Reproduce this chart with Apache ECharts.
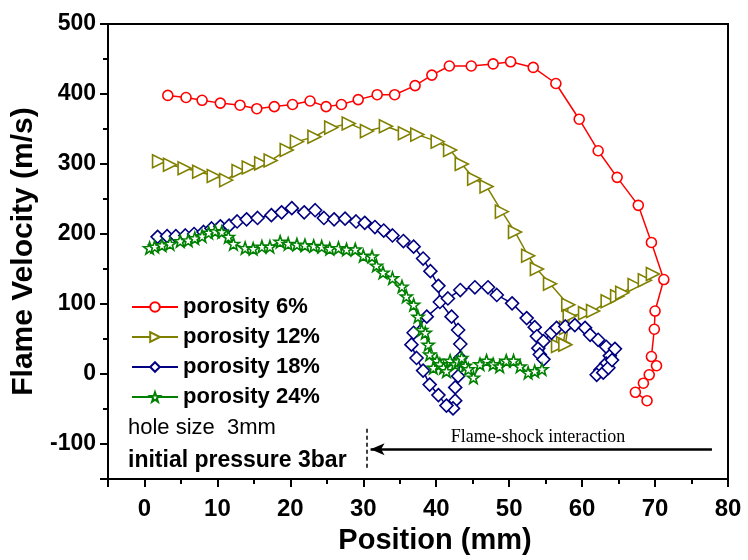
<!DOCTYPE html>
<html>
<head>
<meta charset="utf-8">
<script src="https://cdn.jsdelivr.net/npm/echarts@6/dist/echarts.min.js"></script>
<style>
  html, body { margin: 0; padding: 0; background: #fff; }
  #chart { width: 748px; height: 560px; }
</style>
</head>
<body>
<div id="chart"></div>
<script>
// porosity 6%
var pos6 = [3.2, 5.7, 7.9, 10.4, 13.1, 15.4, 17.8, 20.3, 22.7, 24.9, 27.0, 29.3, 31.9, 34.3, 37.1, 39.4, 41.8, 44.8, 47.8, 50.2, 53.3, 56.4, 59.6, 62.2, 64.8, 67.7, 69.5, 71.2, 70.0, 69.9, 69.5, 70.2, 69.2, 68.4, 67.3, 68.9]
var vel6 = [398, 395, 391, 387, 384, 379, 382, 385, 390, 382, 385, 392, 399, 399, 412, 427, 440, 440, 443, 446, 438, 415, 364, 319, 281, 241, 188, 135, 90, 64, 25, 12, -1, -13, -26, -38]
// porosity 12%
var pos12 = [2.0, 3.5, 5.5, 7.5, 9.5, 11.2, 12.9, 14.3, 16.0, 17.3, 19.5, 20.9, 23.3, 25.6, 28.0, 30.5, 33.1, 35.7, 37.4, 40.2, 41.9, 43.5, 45.2, 46.9, 49.0, 50.8, 52.6, 53.8, 55.6, 58.1, 57.8, 57.4, 56.7, 57.7, 58.3, 60.4, 61.5, 63.5, 64.8, 65.5, 67.2, 68.6, 69.7]
var vel12 = [304, 299, 294, 289, 283, 277, 290, 295, 301, 305, 320, 332, 339, 352, 358, 347, 354, 344, 342, 332, 320, 300, 279, 268, 232, 203, 169, 150, 129, 99, 66, 44, 40, 42, 83, 87, 90, 104, 111, 116, 127, 134, 143]
// porosity 18%
var pos18 = [1.8, 3.1, 4.3, 5.6, 6.8, 8.1, 9.2, 10.4, 11.6, 12.7, 14.0, 15.5, 17.4, 18.8, 20.2, 21.9, 23.4, 24.6, 26.0, 27.5, 29.0, 30.2, 31.6, 32.8, 34.0, 35.5, 36.9, 38.2, 39.2, 40.3, 40.5, 42.1, 43.0, 43.3, 43.3, 43.0, 42.6, 42.6, 42.3, 41.4, 40.3, 39.1, 38.2, 37.3, 36.6, 36.9, 38.7, 41.6, 43.3, 45.3, 47.1, 48.3, 50.4, 52.4, 53.5, 53.8, 54.0, 54.2, 54.7, 54.7, 55.8, 56.5, 57.7, 59.0, 60.4, 61.1, 62.2, 63.3, 63.8, 63.3, 62.5, 62.0, 62.9, 63.6, 64.1, 64.5]
var vel18 = [196, 197, 197, 198, 200, 203, 208, 211, 212, 218, 221, 223, 227, 231, 237, 231, 234, 223, 221, 222, 218, 216, 210, 205, 198, 190, 182, 165, 147, 126, 103, 82, 63, 43, 23, -3, -19, -38, -49, -45, -30, -15, 5, 23, 42, 59, 82, 108, 120, 124, 124, 113, 101, 80, 67, 54, 37, 28, 21, 47, 59, 66, 68, 70, 66, 56, 49, 39, 26, 15, 6, -1, 2, 9, 20, 36]
// porosity 24%
var pos24 = [0.7, 1.4, 2.4, 3.5, 4.9, 6.0, 6.9, 7.9, 8.8, 9.7, 10.6, 11.5, 12.2, 13.8, 14.9, 16.1, 17.2, 18.6, 19.7, 20.9, 22.0, 23.2, 24.3, 25.4, 26.6, 27.7, 28.9, 30.0, 31.2, 31.8, 32.7, 34.0, 35.3, 35.9, 36.9, 37.5, 38.0, 38.5, 38.9, 39.1, 40.1, 39.6, 40.5, 41.0, 41.4, 41.9, 42.6, 43.0, 43.5, 44.0, 44.4, 45.1, 46.0, 46.9, 47.8, 48.7, 49.6, 50.6, 51.5, 52.6, 53.5, 54.5]
var vel24 = [180, 182, 184, 186, 190, 191, 194, 197, 202, 204, 203, 196, 186, 180, 179, 182, 182, 189, 186, 185, 184, 183, 182, 179, 180, 178, 178, 169, 168, 155, 145, 137, 125, 111, 99, 82, 63, 59, 42, 28, 19, 9, 14, 9, 4, 19, 14, 18, 23, 12, 7, -5, 14, 19, 14, 11, 19, 19, 11, 2, 4, 7]

var names = ['porosity 6%', 'porosity 12%', 'porosity 18%', 'porosity 24%']
var colors = ['#ff0000', '#808000', '#000080', '#008000']

function pairs (xs, ys) {
  return xs.map(function (x, i) { return [x, ys[i]] })
}

var star = 'path://M0,-10L2.35,-3.24L9.51,-3.09L3.8,1.24L5.88,8.09L0,4L-5.88,8.09L-3.8,1.24L-9.51,-3.09L-2.35,-3.24Z'

function makeSeries (i, data, symbol, size, rotate) {
  return {
    name: names[i],
    type: 'line',
    data: data,
    symbol: symbol,
    symbolSize: size,
    symbolRotate: rotate || 0,
    showAllSymbol: true,
    z: 2 + i,
    lineStyle: { color: colors[i], width: 1.5 },
    itemStyle: { color: '#fff', borderColor: colors[i], borderWidth: 1.6 },
    emphasis: { disabled: true }
  }
}

var chart = echarts.init(document.getElementById('chart'))
var option = {
  animation: false,
  backgroundColor: '#fff',
  grid: {
    left: 108, right: 20, top: 24, bottom: 78,
    show: true, borderColor: '#000', borderWidth: 2
  },
  legend: {
    data: names,
    orient: 'vertical',
    left: 126,
    top: 291,
    itemWidth: 46,
    itemHeight: 12,
    itemGap: 8,
    textStyle: { fontFamily: 'Liberation Sans', fontWeight: 'bold', fontSize: 22, color: '#000' }
  },
  xAxis: {
    type: 'value',
    min: -5,
    max: 80,
    splitNumber: 8,
    name: 'Position (mm)',
    nameLocation: 'middle',
    nameGap: 38,
    nameTextStyle: { fontFamily: 'Liberation Sans', fontWeight: 'bold', fontSize: 29, color: '#000', padding: [0, 0, 0, 34] },
    axisLine: { onZero: false, lineStyle: { color: '#000', width: 2 } },
    axisTick: { length: 8, lineStyle: { width: 2 } },
    minorTick: { show: true, splitNumber: 2, length: 5, lineStyle: { color: '#000', width: 2 } },
    splitLine: { show: false },
    axisLabel: { showMinLabel: false, margin: 18, fontFamily: 'Liberation Sans', fontWeight: 'bold', fontSize: 24, color: '#000' }
  },
  yAxis: {
    type: 'value',
    min: -150,
    max: 500,
    splitNumber: 6,
    name: 'Flame Velocity (m/s)',
    nameLocation: 'middle',
    nameGap: 68,
    nameTextStyle: { fontFamily: 'Liberation Sans', fontWeight: 'bold', fontSize: 30, color: '#000' },
    axisLine: { onZero: false, lineStyle: { color: '#000', width: 2 } },
    axisTick: { length: 8, lineStyle: { width: 2 } },
    minorTick: { show: true, splitNumber: 2, length: 5, lineStyle: { color: '#000', width: 2 } },
    splitLine: { show: false },
    axisLabel: { showMinLabel: false, margin: 12, fontFamily: 'Liberation Sans', fontWeight: 'bold', fontSize: 23, color: '#000' }
  },
  series: [
    makeSeries(0, pairs(pos6, vel6), 'circle', 10),
    makeSeries(1, pairs(pos12, vel12), 'triangle', 13, -90),
    makeSeries(2, pairs(pos18, vel18), 'diamond', 13),
    makeSeries(3, pairs(pos24, vel24), star, 12),
    {
      type: 'line',
      data: [],
      silent: true,
      markLine: {
        silent: true,
        animation: false,
        label: { show: false },
        data: [
          [
            { coord: [77.8, -107.5], symbol: 'none', lineStyle: { color: '#000', width: 2.5, type: 'solid' } },
            { coord: [31.0, -107.5], symbol: 'arrow', symbolSize: [9, 14] }
          ],
          [
            { coord: [30.5, -78], symbol: 'none', lineStyle: { color: '#000', width: 1.5, type: [4, 3] } },
            { coord: [30.5, -134], symbol: 'none' }
          ]
        ]
      }
    }
  ],
  graphic: [
    {
      type: 'text', x: 128, y: 428,
      style: { text: 'hole size  3mm', font: '22px "Liberation Sans"', fill: '#000', verticalAlign: 'middle' }
    },
    {
      type: 'text', x: 128, y: 461,
      style: { text: 'initial pressure 3bar', font: 'bold 23px "Liberation Sans"', fill: '#000', verticalAlign: 'middle' }
    },
    {
      type: 'text', x: 538, y: 437,
      style: { text: 'Flame-shock interaction', font: '18px "Liberation Serif"', fill: '#000', align: 'center', verticalAlign: 'middle' }
    }
  ]
}
chart.setOption(option)
</script>
</body>
</html>
